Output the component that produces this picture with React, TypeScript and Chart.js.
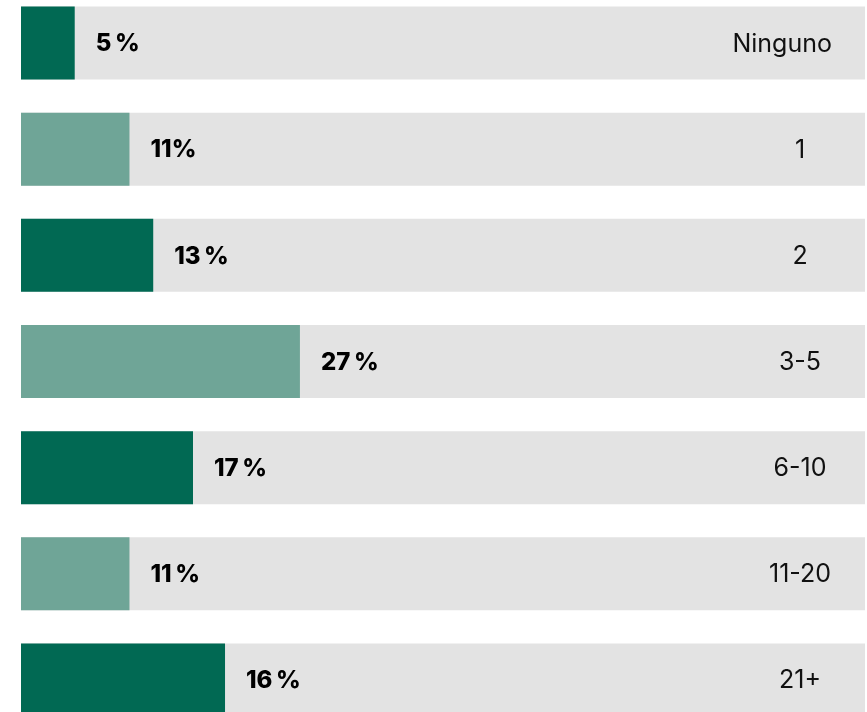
import React, { useEffect, useRef } from "react";
import { Chart, registerables } from "chart.js";

Chart.register(...registerables);

const categories = ["Ninguno", "1", "2", "3-5", "6-10", "11-20", "21+"];
const barValues = [5.2, 10.5, 12.8, 27, 16.65, 10.5, 19.75];
const valueLabels = ["5\u2009%", "11%", "13\u2009%", "27\u2009%", "17\u2009%", "11\u2009%", "16\u2009%"];
const scaleMax = 81.7;
const trackValues = categories.map(() => scaleMax);

const DARK = "#016953";
const LIGHT = "#6FA597";
const TRACK = "#E3E3E3";
const barColors = categories.map((_, i) => (i % 2 === 0 ? DARK : LIGHT));

const VALUE_FONT = "800 24px Inter, 'DejaVu Sans', sans-serif";
const CAT_FONT = "25px Inter, 'DejaVu Sans', sans-serif";

const labelPlugin = {
  id: "barLabels",
  afterDatasetsDraw(chart: any) {
    const ctx = chart.ctx;
    const meta = chart.getDatasetMeta(0);
    ctx.save();
    ctx.textBaseline = "middle";
    meta.data.forEach((bar: any, i: number) => {
      ctx.fillStyle = "#000";
      ctx.font = VALUE_FONT;
      ctx.textAlign = "left";
      ctx.fillText(valueLabels[i], bar.x + 21, bar.y + 1);
      ctx.font = CAT_FONT;
      ctx.fillStyle = "#111";
      const w = ctx.measureText(categories[i]).width;
      const cx = Math.min(chart.chartArea.right - 65, chart.chartArea.right - 33 - w / 2);
      ctx.textAlign = "center";
      ctx.fillText(categories[i], cx, bar.y + 1);
    });
    ctx.restore();
  },
};

export default function App() {
  const ref = useRef<HTMLCanvasElement | null>(null);
  useEffect(() => {
    if (!ref.current) return;
    const chart = new Chart(ref.current, {
      type: "bar",
      data: {
        labels: categories,
        datasets: [
          {
            data: barValues,
            backgroundColor: barColors,
            barPercentage: 0.688,
            categoryPercentage: 1,
            order: 0,
          },
          {
            data: trackValues,
            backgroundColor: TRACK,
            barPercentage: 0.688,
            categoryPercentage: 1,
            order: 1,
          },
        ],
      },
      options: {
        indexAxis: "y",
        animation: false,
        responsive: false,
        maintainAspectRatio: false,
        layout: { padding: { left: 21, right: 2, top: 0, bottom: 0 } },
        plugins: { legend: { display: false }, tooltip: { enabled: false } },
        datasets: { bar: { grouped: false } } as any,
        scales: {
          x: { display: false, min: 0, max: scaleMax },
          y: { display: false },
        },
      },
      plugins: [labelPlugin],
    } as any);
    return () => chart.destroy();
  }, []);
  return (
    <div
      style={{
        position: "fixed",
        left: 0,
        top: 0,
        width: 867,
        height: 712,
        overflow: "hidden",
        background: "#fff",
      }}
    >
      <canvas
        ref={ref}
        width={867}
        height={743}
        style={{ position: "absolute", left: 0, top: -10, width: 867, height: 743 }}
      />
    </div>
  );
}
